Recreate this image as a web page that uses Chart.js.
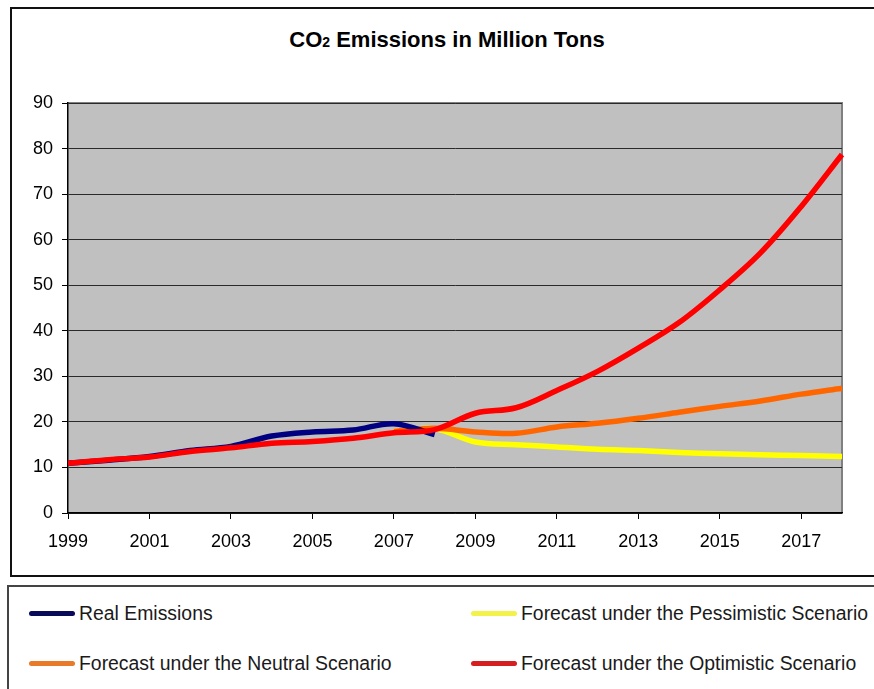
<!DOCTYPE html>
<html lang="en">
<head>
    <meta charset="UTF-8">
    <title>CO2 Emissions in Million Tons</title>
    <script src="https://cdn.jsdelivr.net/npm/chart.js"></script>
    <style>
        body { margin: 0; width: 874px; height: 689px; overflow: hidden; background: #fff; position: relative;
               font-family: "Liberation Sans", Arial, sans-serif; }
        .frame { position: absolute; left: 10px; top: 7px; width: 900px; height: 566px; border: 2px solid #111; }
        .title { position: absolute; left: 0; top: 29px; width: 894px; text-align: center; font-weight: bold;
                 font-size: 22px; line-height: 22px; color: #000; }
        .title small { font-size: 14px; }
        #chartBox { position: absolute; left: 0; top: 0; }
        .legend { position: absolute; left: 7px; top: 585px; width: 900px; height: 200px; border: 2px solid #444; }
        .item { position: absolute; font-size: 19.4px; line-height: 20px; color: #1a1a1a; white-space: nowrap; }
        .item span.swatch { display: inline-block; width: 46px; height: 5px; border-radius: 3px;
                            vertical-align: middle; margin-right: 4px; position: relative; top: -1px; }
    </style>
</head>
<body>
    <div class="frame"></div>
    <div class="title">CO<small>2</small> Emissions in Million Tons</div>
    <canvas id="chartBox" width="874" height="580"></canvas>
    <div class="legend" id="legend"></div>

<script>
    const years = ["1999", "2000", "2001", "2002", "2003", "2004", "2005", "2006", "2007", "2008",
                   "2009", "2010", "2011", "2012", "2013", "2014", "2015", "2016", "2017", "2018"];

    const realEmissions = [10.9, 11.6, 12.4, 13.7, 14.6, 16.9, 17.8, 18.2, 19.6, 17.2];
    const pessimistic = [null, null, null, null, null, null, null, null, 17.9, 18.5,
                         15.6, 15.0, 14.5, 14.0, 13.7, 13.3, 13.0, 12.8, 12.6, 12.4];
    const neutral = [null, null, null, null, null, null, null, null, 17.9, 18.6,
                     17.8, 17.5, 18.9, 19.7, 20.8, 22.1, 23.4, 24.6, 26.1, 27.4];
    const optimistic = [10.9, 11.7, 12.3, 13.5, 14.3, 15.3, 15.7, 16.4, 17.6, 18.3,
                        21.9, 23.1, 26.9, 31.1, 36.2, 41.8, 49.0, 57.1, 67.3, 78.7];

    const seriesNames = ["Real Emissions", "Forecast under the Pessimistic Scenario",
                         "Forecast under the Neutral Scenario", "Forecast under the Optimistic Scenario"];
    const seriesColors = ["#000080", "#FFFF00", "#FF6600", "#FF0000"];
    const legendColors = ["#0a0a5a", "#f2f24a", "#e87a2a", "#d42020"];
    const drawOrder = [1, 3, 2, 0];   // red on top, yellow at the bottom

    const allSeries = [realEmissions, pessimistic, neutral, optimistic];

    // grey plot area with a thin grey frame on top and right
    const plotArea = {
        id: "plotArea",
        beforeDraw(chart) {
            const a = chart.chartArea, c = chart.ctx;
            c.save();
            c.fillStyle = "#C0C0C0";
            c.fillRect(a.left, a.top, a.right - a.left, a.bottom - a.top);
            c.strokeStyle = "#808080";
            c.lineWidth = 2;
            c.beginPath();
            c.moveTo(a.left, a.top);
            c.lineTo(a.right, a.top);
            c.lineTo(a.right, a.bottom);
            c.stroke();
            c.restore();
        }
    };

    new Chart("chartBox", {
        type: "line",
        data: {
            labels: years,
            datasets: allSeries.map((vals, i) => ({
                label: seriesNames[i],
                data: vals,
                borderColor: seriesColors[i],
                backgroundColor: seriesColors[i],
                borderWidth: 5.5,
                pointRadius: 0,
                tension: 0.35,
                fill: false,
                order: drawOrder[i]
            }))
        },
        options: {
            responsive: false,
            animation: false,
            devicePixelRatio: 1,
            layout: { padding: { top: 103, right: 32, left: 0, bottom: 0 } },
            plugins: {
                legend: { display: false },
                title: { display: false },
                tooltip: { enabled: false }
            },
            scales: {
                x: {
                    offset: false,
                    afterFit: s => { s.height = 67; },
                    border: { color: "#000", width: 1.5 },
                    grid: {
                        drawOnChartArea: false,
                        tickLength: 6,
                        tickColor: ctx => ctx.index % 2 === 0 ? "#000" : "rgba(0,0,0,0)"
                    },
                    ticks: {
                        autoSkip: false,
                        maxRotation: 0,
                        padding: 12,
                        color: "#000",
                        font: { family: "Liberation Sans, Arial", size: 18 },
                        callback: (v, i) => i % 2 === 0 ? years[i] : ""
                    }
                },
                y: {
                    min: 0,
                    max: 90,
                    afterFit: s => { s.width = 68; },
                    border: { color: "#000", width: 1.5 },
                    grid: { color: "#2a2a2a", lineWidth: 1, tickLength: 6, tickColor: "#000" },
                    ticks: {
                        stepSize: 10,
                        padding: 9,
                        color: "#000",
                        font: { family: "Liberation Sans, Arial", size: 18 }
                    }
                }
            }
        },
        plugins: [plotArea]
    });

    // legend box: two columns, two rows
    const legendPos = [[27, 601], [469, 601], [27, 651], [469, 651]];
    const legend = document.getElementById("legend");
    seriesNames.forEach((name, i) => {
        const d = document.createElement("div");
        d.className = "item";
        d.style.left = (legendPos[i][0] - 7) + "px";
        d.style.top = (legendPos[i][1] - 585) + "px";
        d.innerHTML = '<span class="swatch" style="background:' + legendColors[i] + '"></span>' + name;
        legend.appendChild(d);
    });
</script>
</body>
</html>
